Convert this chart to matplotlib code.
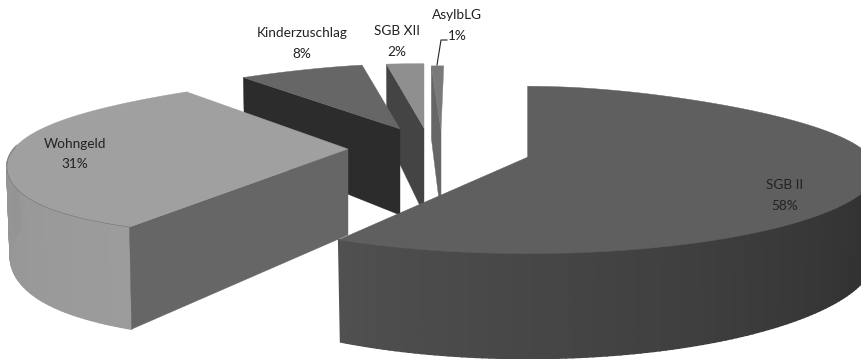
"""
Exploded 3D pie of benefit recipients, drawn with plain polygons.
"""

import matplotlib
matplotlib.use("Agg")
import matplotlib.pyplot as plt
from matplotlib.colors import to_rgb
import numpy as np

plt.rcParams["font.family"] = ["Lato", "DejaVu Sans"]

# Slices in clockwise order from 12 o'clock
slice_names = ["SGB II", "Wohngeld", "Kinderzuschlag", "SGB XII", "AsylbLG"]
slice_shares = [58, 31, 8, 2, 1]

# Colours per slice
top_colors = ["#5f5f5f", "#a0a0a0", "#666666", "#8f8f8f", "#7a7a7a"]
cut_colors = ["#2a2a2a", "#666666", "#2c2c2c", "#444444", "#666666"]
rim_colors = [("#2a2a2a", "#505050"), ("#9c9c9c", "#8e8e8e"), None, None, None]

# Where each slice's tip lands after exploding, in figure pixels
explode_x = [528, 348, 400, 424, 441]
explode_y = [157, 149, 129, 128, 130]
# Depth of the tip on the disk (-1 front, 1 back), and view tweaks per slice
tip_depth = [-0.067, -0.025, 0.24, 0.27, 0.28]
slice_turn = [0, 0, 0, 3.6, 0.8]
slice_gain = [1, 1, 1, 1.5, 1]
slice_persp = [0.153, 0.11, 0.153, 0.153, 0.153]

# Horizontal radius of the disk against depth on the disk
front_knots_v = [-0.876, -0.43, 0.05, 0.58, 0.87]
front_knots_r = [392, 371, 335, 295, 250]
left_knots_v = [-0.876, -0.5, -0.2, 0.25, 0.58, 0.77]
left_knots_r = [452, 385, 342, 318, 288, 251]
back_knots_v = [-0.876, -0.33, 0, 0.77, 1]
back_knots_r = [452, 361, 318, 251, 195]
front_fit = np.polyfit(front_knots_v, front_knots_r, 3)
left_fit = np.polyfit(left_knots_v, left_knots_r, 3)
back_fit = np.polyfit(back_knots_v, back_knots_r, 3)
width_fits = [front_fit, left_fit, back_fit, back_fit, back_fit]

label_x = [785, 75, 302, 397, 457]
label_y = [185, 144, 33, 31, 15]
label_gap = 20.5


def scale_y(v, persp):
    return -80 * v / (1 + persp * v)


def depth(v):
    return 86 / (1 + 0.18 * v)


def project(angle_deg, i):
    """Map clockwise angles on the disk to top and bottom points of slice i."""
    ox, oy = explode_x[i], explode_y[i]
    t = np.radians(angle_deg + slice_turn[i])
    u, v = np.sin(t), np.cos(t)
    persp = slice_persp[i]
    x = ox + u * np.polyval(width_fits[i], v) * slice_gain[i]
    y = oy + scale_y(v + tip_depth[i], persp) - scale_y(tip_depth[i], persp)
    x_low = x + (ox - x) * 0.01
    y_low = y + depth(v)
    return x, y, x_low, y_low, v


def draw_slice(ax, i, start, stop):
    ox, oy = explode_x[i], explode_y[i]
    rim = rim_colors[i]
    angles = np.linspace(start, stop, max(int(stop - start), 8))
    x, y, x_low, y_low, v = project(angles, i)

    # outer wall, only the part facing the viewer
    if rim is not None:
        c0, c1 = np.array(to_rgb(rim[0])), np.array(to_rgb(rim[1]))
        for j in range(len(angles) - 1):
            if v[j] > 0.03:
                continue
            f = np.clip((angles[j] - 90) / (stop - 90), 0, 1)
            if start > 180:
                f = (angles[j] - start) / (stop - start)
            col = c0 + (c1 - c0) * f
            ax.fill([x[j], x[j + 1], x_low[j + 1], x_low[j]],
                    [y[j], y[j + 1], y_low[j + 1], y_low[j]],
                    color=col, linewidth=1.2)

    # cut face along the starting edge
    apex_low = oy + depth(0)
    ax.fill([x[0], ox, ox, x_low[0]], [y[0], oy, apex_low, y_low[0]],
            color=cut_colors[i], linewidth=0.3)

    # top face
    ax.fill(np.r_[ox, x], np.r_[oy, y], color=top_colors[i], linewidth=0.3)
    if rim is not None and i == 1:
        front = v < 0.03
        ax.plot(x[front], y[front], color="#555555", linewidth=0.4, alpha=0.6)


fig = plt.figure(figsize=(8.62, 3.59), dpi=100)
ax = fig.add_axes([0, 0, 1, 1])
ax.set_xlim(0, 862)
ax.set_ylim(359, 0)
ax.axis("off")

stops = np.cumsum(slice_shares) * 3.6
starts = np.r_[0, stops[:-1]]

# paint from the back of the pie to the front
for i in [4, 3, 2, 1, 0]:
    draw_slice(ax, i, starts[i], stops[i])

for name, share, lx, ly in zip(slice_names, slice_shares, label_x, label_y):
    ax.text(lx, ly, name, ha="center", va="center", fontsize=9.8, color="#222222")
    ax.text(lx, ly + label_gap, f"{share}%", ha="center", va="center",
            fontsize=9.8, color="#222222")

# leader line for the smallest slice
ax.plot([437, 441, 447], [65, 40, 40], color="#222222", linewidth=0.8)

fig.savefig("out.png", dpi=100)
